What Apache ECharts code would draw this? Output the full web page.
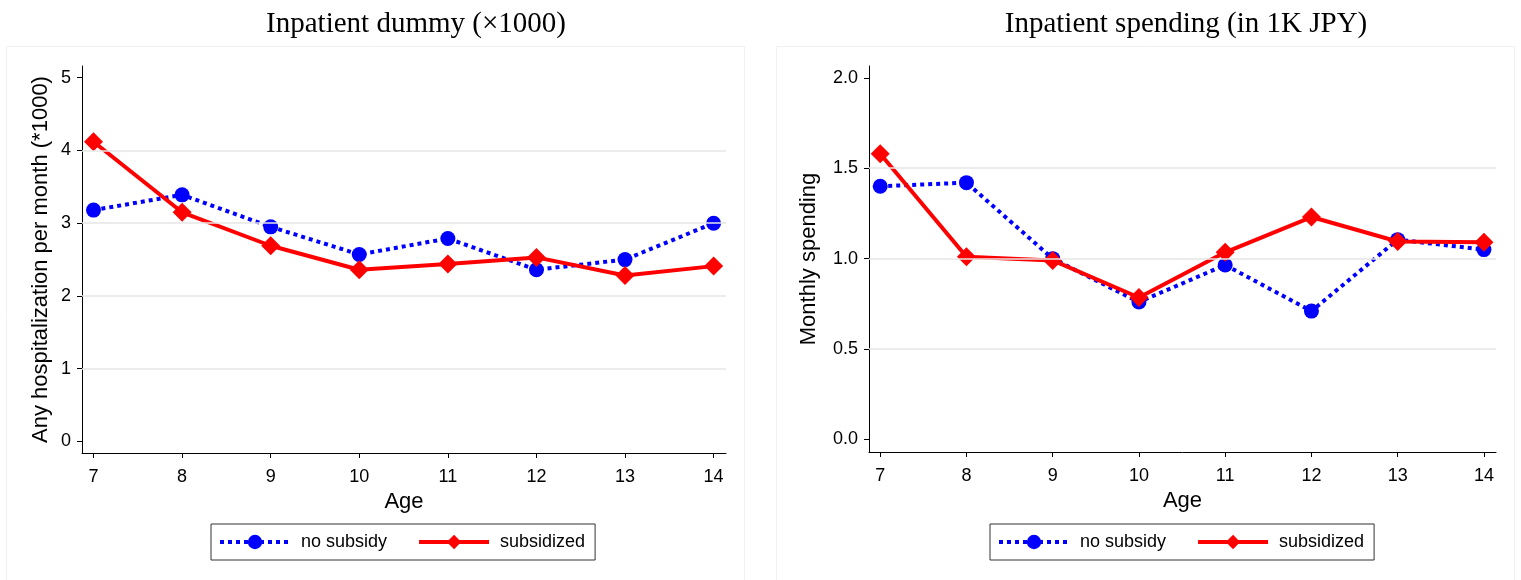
<!DOCTYPE html>
<html>
<head>
<meta charset="utf-8">
<script src="https://cdn.jsdelivr.net/npm/echarts@6/dist/echarts.min.js"></script>
<style>
  html, body { margin: 0; padding: 0; background: #fff; }
  #chart { width: 1521px; height: 580px; }
</style>
</head>
<body>
<div id="chart"></div>
<script>
// Ages on the x axis
const ages = [7, 8, 9, 10, 11, 12, 13, 14];

// Panel 1: any hospitalization per month (*1000)
const dummyNoSubsidy   = [3.18, 3.39, 2.95, 2.57, 2.79, 2.36, 2.50, 3.00];
const dummySubsidized  = [4.12, 3.15, 2.69, 2.36, 2.44, 2.53, 2.28, 2.41];

// Panel 2: monthly inpatient spending (1K JPY)
const spendNoSubsidy   = [1.40, 1.42, 1.00, 0.76, 0.965, 0.71, 1.105, 1.05];
const spendSubsidized  = [1.58, 1.01, 0.99, 0.785, 1.035, 1.23, 1.095, 1.09];

// Tick values
const xTicks      = [7, 8, 9, 10, 11, 12, 13, 14];
const dummyTicks  = [0, 1, 2, 3, 4, 5];
const dummyGrid   = [1, 2, 3, 4];
const spendTicks  = [0, 0.5, 1, 1.5, 2];
const spendGrid   = [0.5, 1, 1.5];

const seriesNames = ['no subsidy', 'subsidized'];
const titles = ['Inpatient dummy (\u00d71000)', 'Inpatient spending (in 1K JPY)'];
const yNames = ['Any hospitalization per month (*1000)', 'Monthly spending'];

const pairs = (ys) => ages.map((a, i) => [a, ys[i]]);

const BLUE = '#0000ff';
const RED = '#ff0000';
const AXIS = '#000000';
const SANS = '"Liberation Sans", Arial, sans-serif';
const SERIF = '"Liberation Serif", "Times New Roman", serif';

function xAxisFor(gridIndex) {
  return {
    type: 'value', gridIndex,
    min: 6.87, max: 14.14,
    name: 'Age', nameLocation: 'middle', nameGap: 38,
    nameTextStyle: { fontFamily: SANS, fontSize: 22, color: '#000' },
    axisLine: { show: true, onZero: false, lineStyle: { color: AXIS, width: 1 } },
    axisTick: { show: true, length: 5, lineStyle: { color: AXIS }, customValues: xTicks },
    axisLabel: { fontFamily: SANS, fontSize: 18, color: '#000', margin: 15, customValues: xTicks },
    splitLine: { show: false }
  };
}

function yAxisFor(gridIndex, min, max, ticks, name, gap, fmt) {
  return {
    type: 'value', gridIndex, min, max,
    name, nameLocation: 'middle', nameGap: gap,
    nameTextStyle: { fontFamily: SANS, fontSize: 22, color: '#000' },
    axisLine: { show: true, onZero: false, lineStyle: { color: AXIS, width: 1 } },
    axisTick: { show: true, length: 5, lineStyle: { color: AXIS }, customValues: ticks },
    axisLabel: { fontFamily: SANS, fontSize: 18, color: '#000', margin: 11, customValues: ticks, formatter: fmt },
    splitLine: { show: false }
  };
}

function gridSeries(idx, values) {
  return {
    type: 'line', xAxisIndex: idx, yAxisIndex: idx, data: [], z: 1, silent: true,
    markLine: {
      silent: true, symbol: 'none', animation: false,
      label: { show: false },
      lineStyle: { color: '#e6e6e6', width: 1.5, type: 'solid' },
      data: values.map(v => ({ yAxis: v }))
    }
  };
}

function blueSeries(idx, ys) {
  return {
    name: seriesNames[0], type: 'line', xAxisIndex: idx, yAxisIndex: idx, z: 3,
    data: pairs(ys), symbol: 'circle', symbolSize: 15,
    itemStyle: { color: BLUE },
    lineStyle: { color: BLUE, width: 4, type: [4, 4], cap: 'butt' },
    animation: false
  };
}

function redSeries(idx, ys) {
  return {
    name: seriesNames[1], type: 'line', xAxisIndex: idx, yAxisIndex: idx, z: 4,
    data: pairs(ys), symbol: 'diamond', symbolSize: [19, 19],
    itemStyle: { color: RED },
    lineStyle: { color: RED, width: 4, type: 'solid' },
    animation: false
  };
}

function legendFor(left) {
  return {
    data: seriesNames, left, top: 524, orient: 'horizontal',
    itemWidth: 70, itemHeight: 18, itemGap: 30,
    padding: [9, 10, 9, 7],
    borderColor: '#333', borderWidth: 1, borderRadius: 0,
    lineStyle: { width: 4 },
    textStyle: { fontFamily: SANS, fontSize: 18, color: '#000', padding: [0, 0, 0, 6] },
    selectedMode: false
  };
}

const chart = echarts.init(document.getElementById('chart'), null, { renderer: 'canvas' });

chart.setOption({
  backgroundColor: '#ffffff',
  animation: false,
  title: [
    { text: titles[0], left: 411, top: 5, textAlign: 'center',
      textStyle: { fontFamily: SERIF, fontSize: 29, fontWeight: 'normal', color: '#000' } },
    { text: titles[1], left: 1181, top: 5, textAlign: 'center',
      textStyle: { fontFamily: SERIF, fontSize: 29, fontWeight: 'normal', color: '#000' } }
  ],
  graphic: [
    { type: 'rect', shape: { x: 6.5, y: 46.5, width: 738, height: 560 }, silent: true, z: -1,
      style: { fill: 'none', stroke: '#f1f1f1', lineWidth: 1 } },
    { type: 'rect', shape: { x: 776.5, y: 46.5, width: 738, height: 560 }, silent: true, z: -1,
      style: { fill: 'none', stroke: '#f1f1f1', lineWidth: 1 } }
  ],
  grid: [
    { left: 82, top: 66, width: 644, height: 387 },
    { left: 869, top: 66, width: 627, height: 386 }
  ],
  xAxis: [xAxisFor(0), xAxisFor(1)],
  yAxis: [
    yAxisFor(0, -0.159, 5.161, dummyTicks, yNames[0], 30, v => String(v)),
    yAxisFor(1, -0.069, 2.065, spendTicks, yNames[1], 49, v => v.toFixed(1))
  ],
  legend: [legendFor(211), legendFor(990)],
  series: [
    gridSeries(0, dummyGrid),
    gridSeries(1, spendGrid),
    blueSeries(0, dummyNoSubsidy),
    redSeries(0, dummySubsidized),
    blueSeries(1, spendNoSubsidy),
    redSeries(1, spendSubsidized)
  ]
});
</script>
</body>
</html>
